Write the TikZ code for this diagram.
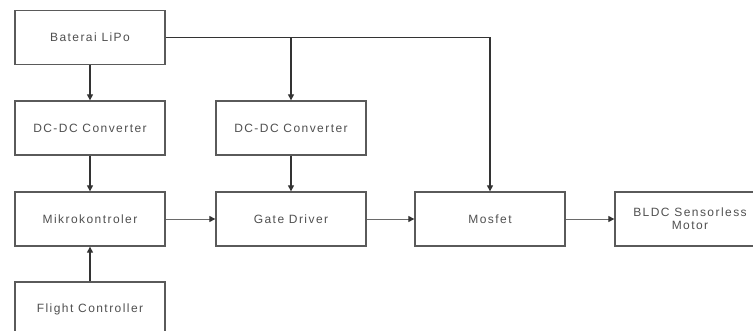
\documentclass[tikz,border=0pt]{standalone}
\usepackage{fontspec}
\setmainfont{Liberation Sans}[LetterSpace=12]
\usetikzlibrary{arrows.meta}
\definecolor{boxline}{HTML}{5A5A5A}
\definecolor{txt}{HTML}{505050}
\definecolor{wire}{HTML}{333333}
\definecolor{hwire}{HTML}{6A6A6A}
\begin{document}
\begin{tikzpicture}[x=1pt,y=-1pt,
  blk/.style={draw=boxline,line width=1.3pt,minimum width=150pt,minimum height=54pt,inner sep=0pt,
    font=\fontsize{12}{13}\selectfont,text=txt,align=center,fill=white},
  arr/.style={draw=wire,line width=1.1pt,-{Triangle[length=6pt,width=6pt,color=wire]}},
  harr/.style={draw=hwire,line width=1pt,-{Triangle[length=6pt,width=6pt,color=wire]}}]
\useasboundingbox[fill=white] (0,0) rectangle (753,330);
\node[blk] (bat) at (90,37.5) {Baterai LiPo};
\node[blk] (dc1) at (90,128) {DC-DC Converter};
\node[blk] (dc2) at (291,128) {DC-DC Converter};
\node[blk] (mik) at (90,219) {Mikrokontroler};
\node[blk] (gat) at (291,219) {Gate Driver};
\node[blk] (mos) at (490,219) {Mosfet};
\node[blk] (bld) at (690,219) {BLDC Sensorless\\Motor};
\node[blk] (fli) at (90,309) {Flight Controller};
\coordinate (j) at (bat.east -| dc2.north);
\draw[arr] (bat) -- (dc1);
\draw[arr] (bat.east) -| (mos.north);
\draw[arr] (j) -- (dc2.north);
\draw[arr] (dc1) -- (mik);
\draw[arr] (dc2) -- (gat);
\draw[arr] (fli) -- (mik);
\draw[harr] (mik) -- (gat);
\draw[harr] (gat) -- (mos);
\draw[harr] (mos) -- (bld);
\end{tikzpicture}
\end{document}
